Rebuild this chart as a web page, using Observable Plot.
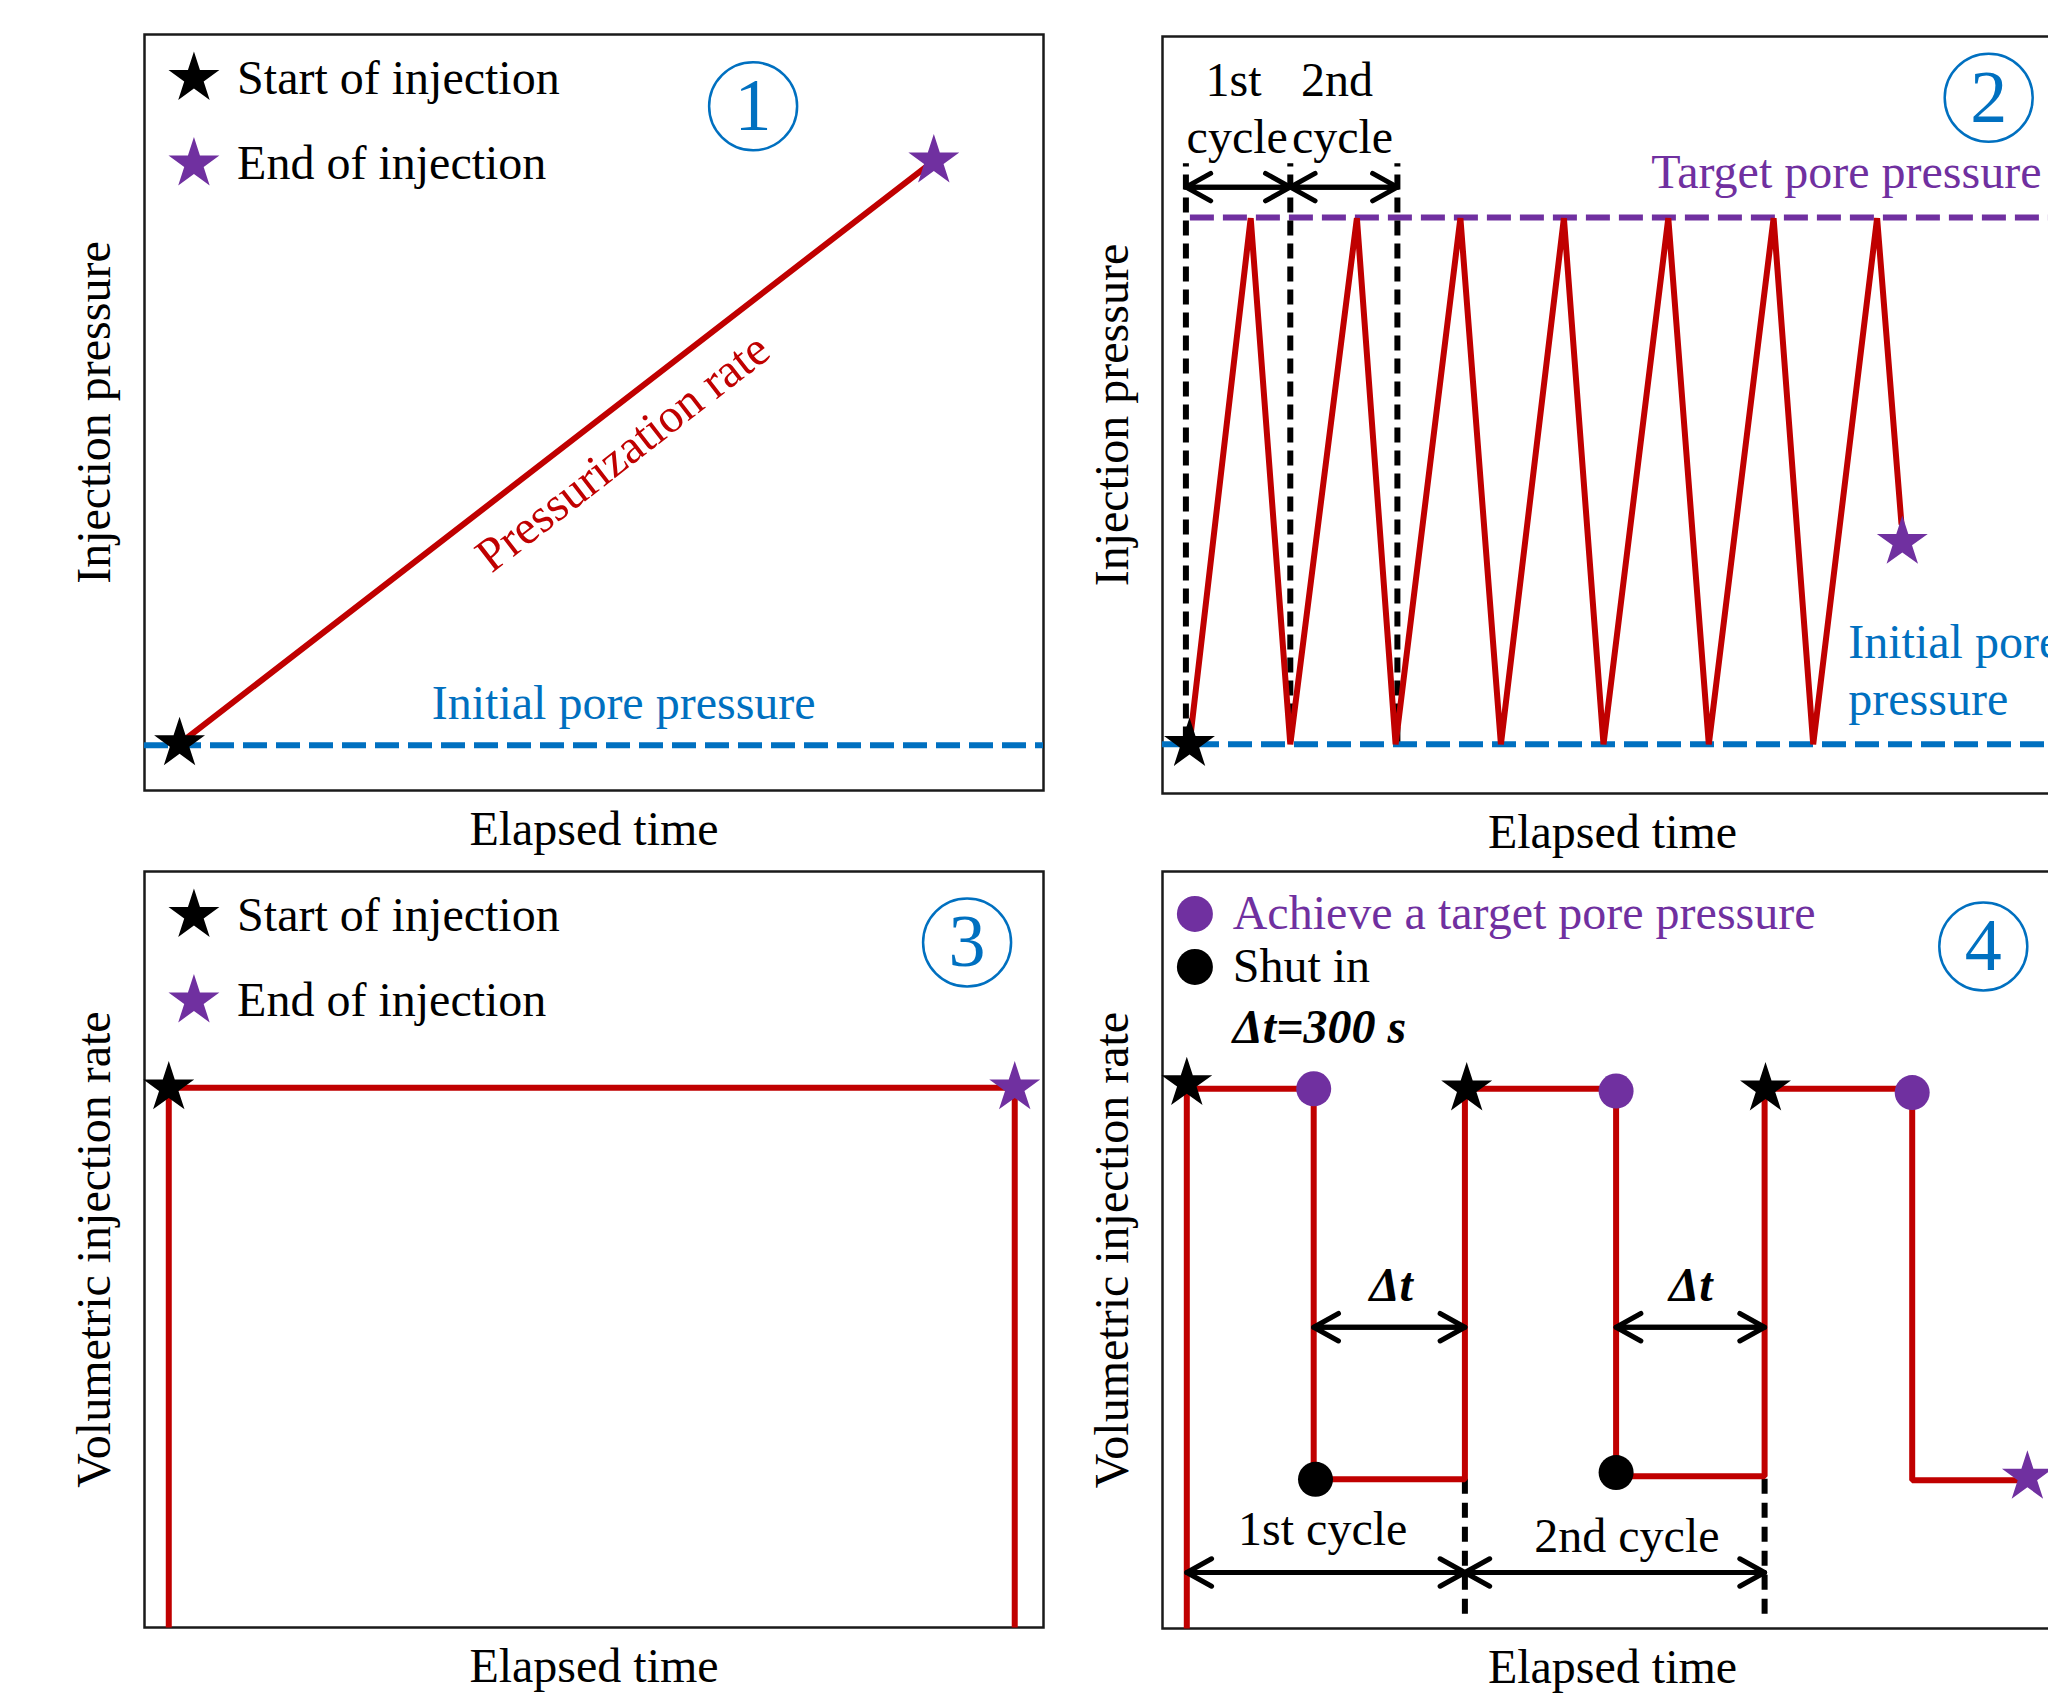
<!DOCTYPE html>
<html>
<head>
<meta charset="utf-8">
<script src="https://cdn.jsdelivr.net/npm/d3@7"></script>
<script src="https://cdn.jsdelivr.net/npm/@observablehq/plot@0.6"></script>
<style>
  html, body { margin: 0; padding: 0; background: #fff; overflow: hidden; }
  #wrap { position: relative; width: 2048px; height: 1700px; overflow: hidden; background: #fff; }
  #wrap svg { position: absolute; }
</style>
</head>
<body>
<div id="wrap"></div>
<script>
// ---------- colours / font ----------
const FONT = "'Liberation Serif', 'Times New Roman', serif";
const RED = "#C00000", PURPLE = "#7030A0", BLUE = "#0070C0";

// ---------- Panel ① : constant pressurization rate ----------
const rampTime = [3.9, 87.8];          // elapsed time (0-100)
const rampPressure = [6.2, 83.3];      // injection pressure (0-100)
const rampInitialPore = 6.0;           // initial pore pressure level
const legendLabels = ["Start of injection", "End of injection"];

// ---------- Panel ② : cyclic pressure ----------
const cycTime = [3.0, 9.8, 14.2, 21.6, 25.9, 33.1, 37.6, 44.6, 49.0, 56.2, 60.7, 67.9, 72.3, 79.4, 82.1];
const cycPressure = [6.5, 76, 6.5, 76, 6.5, 76, 6.5, 76, 6.5, 76, 6.5, 76, 6.5, 76, 35.7];
const cycTargetPore = 76.1;
const cycInitialPore = 6.5;
const cycBounds = [2.6, 14.2, 26.1];
const cycEndTime = 82.2, cycEndPressure = 33.2;
const cycLabelsTop = ["1st", "2nd"];

// ---------- Panel ③ : constant injection rate ----------
const constTime = [2.7, 2.7, 96.8, 96.8];
const constRate = [0, 71.4, 71.4, 0];

// ---------- Panel ④ : injection / shut-in cycles ----------
const stepTime = [2.7, 2.7, 16.8, 16.8, 33.6, 33.6, 50.4, 50.4, 66.9, 66.9, 83.3, 83.3, 96.1];
const stepRate = [0, 71.3, 71.3, 19.7, 19.7, 71.3, 71.3, 20.1, 20.1, 71.3, 71.3, 19.6, 19.6];
const targetTime = [16.8, 50.4, 83.3], targetRate = [71.3, 71.0, 70.8];
const shutTime = [17.0, 50.4], shutRate = [19.7, 20.6];
const startTime = [2.7, 33.8, 67.0], startRate = [72.0, 71.3, 71.3];
const stepEndTime = 96.1, stepEndRate = 20.0;
const shutBounds = [33.6, 66.9];
const cycleNames = ["1st cycle", "2nd cycle"];
const deltaLabel = "Δt=300 s";

// ---------- helpers ----------
const wrap = document.getElementById("wrap");
const zip = (xs, ys) => xs.map((x, i) => ({x, y: ys[i]}));

function panel({left, top, width, height, mL, mR, mT, mB, marks}) {
  const svg = Plot.plot({
    width, height,
    marginLeft: mL, marginRight: mR, marginTop: mT, marginBottom: mB,
    x: {domain: [0, 100], axis: null},
    y: {domain: [0, 100], axis: null},
    style: {fontFamily: FONT, fontSize: "48px", background: "transparent", overflow: "visible", color: "black"},
    marks
  });
  svg.style.left = left + "px";
  svg.style.top = top + "px";
  svg.style.maxWidth = "none";
  wrap.append(svg);
}

const LW = 6;
const frame = () => Plot.frame({stroke: "#1a1a1a", strokeWidth: 2.5});
const xLabel = () => Plot.text(["Elapsed time"], {frameAnchor: "bottom", dy: 39, textAnchor: "middle", lineAnchor: "middle", fontSize: 48, fill: "black"});
const yLabel = (t) => Plot.text([t], {frameAnchor: "left", dx: -50, rotate: -90, textAnchor: "middle", lineAnchor: "middle", fontSize: 48, fill: "black"});
const circled = (digit, cx, cy) => [
  Plot.dot([0], {x: cx, y: cy, r: 44, stroke: BLUE, strokeWidth: 2.5, fill: "none"}),
  Plot.text([digit], {x: cx, y: cy, fontSize: 74, fill: BLUE})
];
const starLegend = () => [
  Plot.dot([0], {x: 5.5, y: 94.2, symbol: "star", r: 16, fill: "black", stroke: "none"}),
  Plot.dot([0], {x: 5.5, y: 82.9, symbol: "star", r: 16, fill: PURPLE, stroke: "none"}),
  Plot.text([legendLabels[0]], {x: 10.3, y: 94.2, textAnchor: "start", fontSize: 48, fill: "black"}),
  Plot.text([legendLabels[1]], {x: 10.3, y: 82.9, textAnchor: "start", fontSize: 48, fill: "black"})
];
const dblArrows = (segs, yv) => [
  Plot.arrow(segs, {x1: d => d[0], x2: d => d[1], y1: yv, y2: yv, stroke: "black", strokeWidth: 5, headLength: 8.5, headAngle: 58, strokeLinecap: "round", strokeLinejoin: "round"}),
  Plot.arrow(segs, {x1: d => d[1], x2: d => d[0], y1: yv, y2: yv, stroke: "black", strokeWidth: 5, headLength: 8.5, headAngle: 58, strokeLinecap: "round", strokeLinejoin: "round"})
];

// ---------- Panel ① ----------
panel({left: 0, top: 0, width: 1100, height: 860, mL: 144, mR: 57, mT: 34, mB: 70, marks: [
  frame(),
  Plot.ruleY([rampInitialPore], {stroke: BLUE, strokeWidth: LW, strokeDasharray: "24,9"}),
  Plot.line(zip(rampTime, rampPressure), {x: "x", y: "y", stroke: RED, strokeWidth: LW}),
  Plot.dot([zip(rampTime, rampPressure)[0]], {x: "x", y: "y", symbol: "star", r: 16, fill: "black", stroke: "none"}),
  Plot.dot([zip(rampTime, rampPressure)[1]], {x: "x", y: "y", symbol: "star", r: 16, fill: PURPLE, stroke: "none"}),
  Plot.text(["Initial pore pressure"], {x: 53.3, y: 11.5, fontSize: 48, fill: BLUE}),
  Plot.text(["Pressurization rate"], {x: 53.2, y: 44.7, rotate: -37.8, fontSize: 48, fill: RED}),
  ...starLegend(),
  ...circled("1", 67.7, 90.5),
  xLabel(),
  yLabel("Injection pressure")
]});

// ---------- Panel ② ----------
panel({left: 1100, top: 0, width: 1000, height: 860, mL: 62, mR: 38, mT: 36, mB: 67, marks: [
  frame(),
  Plot.ruleY([cycInitialPore], {stroke: BLUE, strokeWidth: LW, strokeDasharray: "24,9"}),
  Plot.ruleY([cycTargetPore], {x1: 3.1, x2: 100, stroke: PURPLE, strokeWidth: LW, strokeDasharray: "24,9"}),
  Plot.ruleX(cycBounds, {y1: 6.8, y2: 83.2, stroke: "black", strokeWidth: LW, strokeDasharray: "15,8"}),
  ...dblArrows([[cycBounds[0], cycBounds[1]], [cycBounds[1], cycBounds[2]]], 80.1),
  Plot.line(zip(cycTime, cycPressure), {x: "x", y: "y", stroke: RED, strokeWidth: LW, strokeLinejoin: "miter"}),
  Plot.dot([{x: cycTime[0], y: cycPressure[0]}], {x: "x", y: "y", symbol: "star", r: 16, fill: "black", stroke: "none"}),
  Plot.dot([{x: cycEndTime, y: cycEndPressure}], {x: "x", y: "y", symbol: "star", r: 16, fill: PURPLE, stroke: "none"}),
  Plot.text([cycLabelsTop[0]], {x: 7.9, y: 94.2, fontSize: 48, fill: "black"}),
  Plot.text([cycLabelsTop[1]], {x: 19.4, y: 94.2, fontSize: 48, fill: "black"}),
  Plot.text(["cycle"], {x: 8.3, y: 86.7, fontSize: 48, fill: "black"}),
  Plot.text(["cycle"], {x: 20.0, y: 86.7, fontSize: 48, fill: "black"}),
  Plot.text(["Target pore pressure"], {x: 54.3, y: 82.0, textAnchor: "start", fontSize: 48, fill: PURPLE}),
  Plot.text(["Initial pore"], {x: 76.2, y: 19.9, textAnchor: "start", fontSize: 48, fill: BLUE}),
  Plot.text(["pressure"], {x: 76.2, y: 12.4, textAnchor: "start", fontSize: 48, fill: BLUE}),
  ...circled("2", 91.8, 91.9),
  xLabel(),
  yLabel("Injection pressure")
]});

// ---------- Panel ③ ----------
panel({left: 0, top: 860, width: 1100, height: 840, mL: 144, mR: 57, mT: 11, mB: 73, marks: [
  frame(),
  Plot.line(zip(constTime, constRate), {x: "x", y: "y", stroke: RED, strokeWidth: LW, strokeLinejoin: "miter", strokeLinecap: "butt"}),
  Plot.dot([{x: constTime[1], y: constRate[1]}], {x: "x", y: "y", symbol: "star", r: 16, fill: "black", stroke: "none"}),
  Plot.dot([{x: constTime[2], y: constRate[2]}], {x: "x", y: "y", symbol: "star", r: 16, fill: PURPLE, stroke: "none"}),
  ...starLegend(),
  ...circled("3", 91.5, 90.6),
  xLabel(),
  yLabel("Volumetric injection rate")
]});

// ---------- Panel ④ ----------
panel({left: 1100, top: 860, width: 1000, height: 840, mL: 62, mR: 38, mT: 11, mB: 72, marks: [
  frame(),
  Plot.ruleX(shutBounds, {y1: 19.7, y2: 1.3, stroke: "black", strokeWidth: LW, strokeDasharray: "15,9"}),
  Plot.line(zip(stepTime, stepRate), {x: "x", y: "y", stroke: RED, strokeWidth: LW, strokeLinejoin: "miter", strokeLinecap: "butt"}),
  ...dblArrows([[targetTime[0], shutBounds[0]], [targetTime[1], shutBounds[1]]], 39.8),
  ...dblArrows([[stepTime[0], shutBounds[0]], [shutBounds[0], shutBounds[1]]], 7.4),
  Plot.dot(zip(targetTime, targetRate), {x: "x", y: "y", r: 17.5, fill: PURPLE, stroke: "none"}),
  Plot.dot(zip(shutTime, shutRate), {x: "x", y: "y", r: 17.5, fill: "black", stroke: "none"}),
  Plot.dot(zip(startTime, startRate), {x: "x", y: "y", symbol: "star", r: 16, fill: "black", stroke: "none"}),
  Plot.dot([{x: stepEndTime, y: stepEndRate}], {x: "x", y: "y", symbol: "star", r: 16, fill: PURPLE, stroke: "none"}),
  Plot.text(["Δt"], {x: 25.4, y: 45.3, fontSize: 48, fontStyle: "italic", fontWeight: "bold", fill: "black"}),
  Plot.text(["Δt"], {x: 58.7, y: 45.3, fontSize: 48, fontStyle: "italic", fontWeight: "bold", fill: "black"}),
  Plot.text([cycleNames[0]], {x: 17.8, y: 13.0, fontSize: 48, fill: "black"}),
  Plot.text([cycleNames[1]], {x: 51.6, y: 12.2, fontSize: 48, fill: "black"}),
  Plot.dot([0], {x: 3.6, y: 94.4, r: 18, fill: PURPLE, stroke: "none"}),
  Plot.dot([0], {x: 3.6, y: 87.4, r: 18, fill: "black", stroke: "none"}),
  Plot.text(["Achieve a target pore pressure"], {x: 7.8, y: 94.4, textAnchor: "start", fontSize: 48, fill: PURPLE}),
  Plot.text(["Shut in"], {x: 7.8, y: 87.4, textAnchor: "start", fontSize: 48, fill: "black"}),
  Plot.text([deltaLabel], {x: 7.8, y: 79.4, textAnchor: "start", fontSize: 48, fontStyle: "italic", fontWeight: "bold", fill: "black"}),
  ...circled("4", 91.2, 90.1),
  xLabel(),
  yLabel("Volumetric injection rate")
]});
</script>
</body>
</html>
